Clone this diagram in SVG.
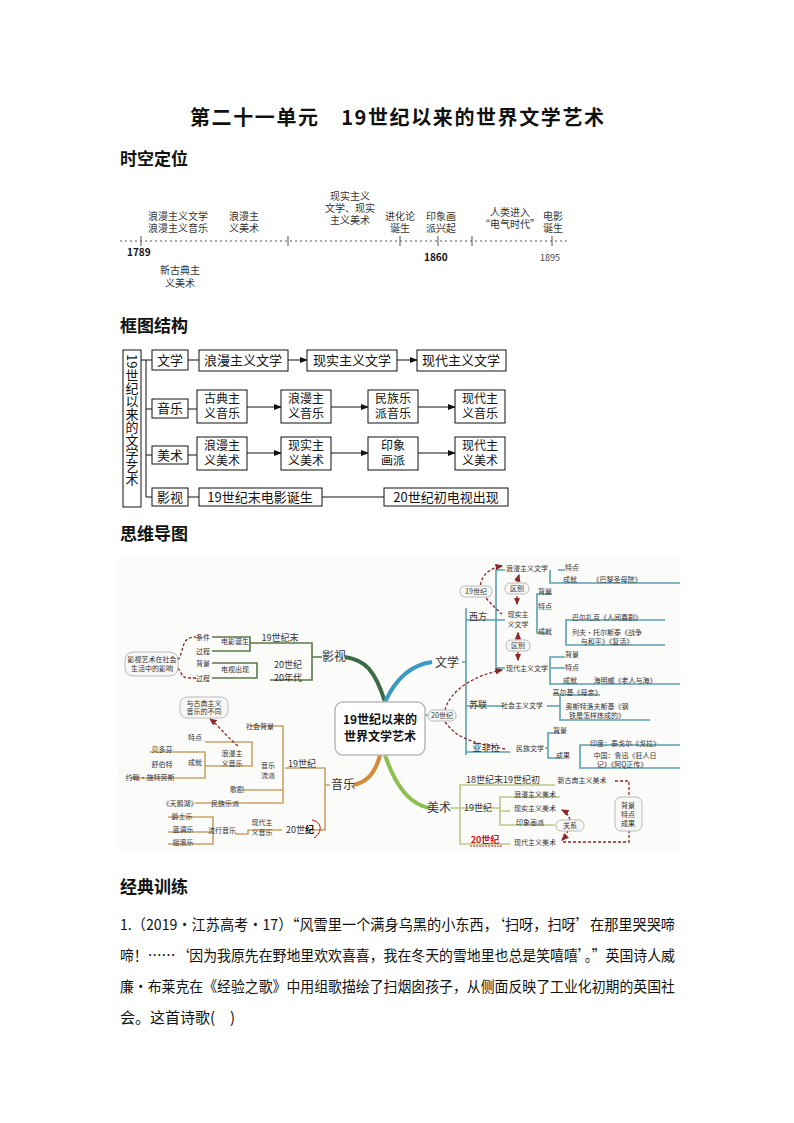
<svg xmlns="http://www.w3.org/2000/svg" width="794" height="1123" viewBox="0 0 794 1123">
<style>
text{font-family:"Noto Sans CJK SC","Liberation Sans",sans-serif;fill:#111}
.h{font-size:17px;font-weight:bold}
.tl{font-size:10px;fill:#333;text-anchor:middle}
.bx{fill:#fff;stroke:#111;stroke-width:1}
.ft{font-size:13px;text-anchor:middle}
.f2{font-size:12px;text-anchor:middle}
.ln{stroke:#111;stroke-width:1;fill:none}
.m{font-size:7px;fill:#333;text-anchor:middle}
.mb{font-size:12px;fill:#333;text-anchor:middle}
.g{stroke:#5a7a4a;stroke-width:1.6;fill:none}
.o{stroke:#c9a46a;stroke-width:1.6;fill:none}
.b{stroke:#5aa0b0;stroke-width:1.6;fill:none}
.y{stroke:#b9c98a;stroke-width:1.6;fill:none}
.d{stroke:#8a2a2a;stroke-width:1.3;fill:none;stroke-dasharray:3 2}
.sb{fill:#f7f7f5;stroke:#bbb;stroke-width:1}
.p{font-size:15px}
</style>
<defs>
<marker id="a" markerWidth="8" markerHeight="6" refX="7" refY="3" orient="auto"><path d="M0,0 L8,3 L0,6 z" fill="#111"/></marker>
<marker id="r" markerWidth="6" markerHeight="5" refX="5" refY="2.5" orient="auto"><path d="M0,0 L6,2.5 L0,5 z" fill="#8a2a2a"/></marker>
</defs>
<rect width="794" height="1123" fill="#fff"/>
<text x="397" y="125" font-size="20" font-weight="bold" text-anchor="middle" textLength="414" lengthAdjust="spacing">第二十一单元　19世纪以来的世界文学艺术</text>
<text x="120" y="165" class="h">时空定位</text>

<g id="timeline">
<line x1="120" y1="241" x2="570" y2="241" stroke="#555" stroke-dasharray="2 3"/>
<g stroke="#555"><line x1="141" y1="236" x2="141" y2="246"/><line x1="288" y1="236" x2="288" y2="246"/><line x1="400" y1="236" x2="400" y2="246"/><line x1="438" y1="236" x2="438" y2="246"/><line x1="472" y1="236" x2="472" y2="246"/><line x1="552" y1="236" x2="552" y2="246"/></g>
<text class="tl" x="178" y="220">浪漫主义文学</text><text class="tl" x="178" y="232">浪漫主义音乐</text>
<text class="tl" x="244" y="220">浪漫主</text><text class="tl" x="244" y="232">义美术</text>
<text class="tl" x="350" y="200">现实主义</text><text class="tl" x="350" y="212">文学、现实</text><text class="tl" x="350" y="224">主义美术</text>
<text class="tl" x="400" y="220">进化论</text><text class="tl" x="400" y="232">诞生</text>
<text class="tl" x="441" y="220">印象画</text><text class="tl" x="441" y="232">派兴起</text>
<text class="tl" x="510" y="216">人类进入</text><text class="tl" x="510" y="228">“电气时代”</text>
<text class="tl" x="553" y="220">电影</text><text class="tl" x="553" y="232">诞生</text>
<text x="127" y="256" font-size="10" font-weight="bold" font-family="Liberation Sans">1789</text>
<text x="424" y="261" font-size="10" font-weight="bold" font-family="Liberation Sans">1860</text>
<text x="540" y="261" font-size="9" style="fill:#444" font-family="Liberation Serif">1895</text>
<text class="tl" x="180" y="274">新古典主</text><text class="tl" x="180" y="287">义美术</text>
</g>

<text x="120" y="332" class="h">框图结构</text>
<g id="connectors-frame">
<path class="ln" d="M141 360H152 M146 360V497 M146 409H152 M146 455H152 M146 497H152"/>
<path class="ln" d="M188 360H199 M188 409H197 M188 455H197 M188 497H199"/>
<path class="ln" marker-end="url(#a)" d="M288 360H307"/><path class="ln" marker-end="url(#a)" d="M397 360H417"/>
<path class="ln" marker-end="url(#a)" d="M247 407H281"/><path class="ln" marker-end="url(#a)" d="M331 407H368"/><path class="ln" marker-end="url(#a)" d="M418 407H455"/>
<path class="ln" marker-end="url(#a)" d="M247 453H281"/><path class="ln" marker-end="url(#a)" d="M331 453H368"/><path class="ln" marker-end="url(#a)" d="M418 453H455"/>
<path class="ln" d="M322 497H384"/>
</g>
<g id="frame-root"><rect class="bx" x="123" y="350" width="18" height="157"/>
<text font-size="13" x="132" y="354" style="writing-mode:vertical-rl" text-anchor="start">19世纪以来的文学艺术</text></g>
<g id="f-wx"><rect class="bx" x="152" y="350" width="36" height="20"/><text class="ft" x="170" y="365">文学</text></g>
<g id="f-yy"><rect class="bx" x="152" y="399" width="36" height="19"/><text class="ft" x="170" y="413">音乐</text></g>
<g id="f-ms"><rect class="bx" x="152" y="446" width="36" height="18"/><text class="ft" x="170" y="460">美术</text></g>
<g id="f-ysh"><rect class="bx" x="152" y="488" width="36" height="18"/><text class="ft" x="170" y="502">影视</text></g>
<g id="f1"><rect class="bx" x="199" y="350" width="89" height="21"/><text class="ft" x="243" y="365">浪漫主义文学</text></g>
<g id="f2"><rect class="bx" x="307" y="350" width="90" height="21"/><text class="ft" x="352" y="365">现实主义文学</text></g>
<g id="f3"><rect class="bx" x="417" y="350" width="89" height="21"/><text class="ft" x="461" y="365">现代主义文学</text></g>
<g id="f4"><rect class="bx" x="197" y="390" width="50" height="33"/><text class="f2" x="222" y="403">古典主</text><text class="f2" x="222" y="418">义音乐</text></g>
<g id="f5"><rect class="bx" x="281" y="390" width="50" height="33"/><text class="f2" x="306" y="403">浪漫主</text><text class="f2" x="306" y="418">义音乐</text></g>
<g id="f6"><rect class="bx" x="368" y="390" width="50" height="33"/><text class="f2" x="393" y="403">民族乐</text><text class="f2" x="393" y="418">派音乐</text></g>
<g id="f7"><rect class="bx" x="455" y="390" width="50" height="33"/><text class="f2" x="480" y="403">现代主</text><text class="f2" x="480" y="418">义音乐</text></g>
<g id="f8"><rect class="bx" x="197" y="437" width="50" height="33"/><text class="f2" x="222" y="450">浪漫主</text><text class="f2" x="222" y="465">义美术</text></g>
<g id="f9"><rect class="bx" x="281" y="437" width="50" height="33"/><text class="f2" x="306" y="450">现实主</text><text class="f2" x="306" y="465">义美术</text></g>
<g id="f10"><rect class="bx" x="368" y="437" width="50" height="33"/><text class="f2" x="393" y="450">印象</text><text class="f2" x="393" y="465">画派</text></g>
<g id="f11"><rect class="bx" x="455" y="437" width="50" height="33"/><text class="f2" x="480" y="450">现代主</text><text class="f2" x="480" y="465">义美术</text></g>
<g id="f12"><rect class="bx" x="199" y="488" width="123" height="18"/><text class="ft" x="260" y="502" font-size="12">19世纪末电影诞生</text></g>
<g id="f13"><rect class="bx" x="384" y="488" width="124" height="18"/><text class="ft" x="446" y="502" font-size="12">20世纪初电视出现</text></g>

<text x="120" y="540" class="h">思维导图</text>
<g id="mindmap">
<rect x="118" y="556" width="562" height="296" fill="#fbfbfa"/>
<path d="M385 702 C375 670 365 660 345 657" stroke="#3d6a45" stroke-width="4" fill="none"/>
<path d="M385 702 C395 680 410 665 432 662" stroke="#3a9ac0" stroke-width="4" fill="none"/>
<path d="M380 755 C375 775 365 783 353 785" stroke="#d58a3a" stroke-width="4" fill="none"/>
<path d="M385 755 C395 785 410 805 430 808" stroke="#8cbf50" stroke-width="4" fill="none"/>
<path class="b" d="M425 715H436"/>
<path class="g" d="M322 657 H312 V643 H250 M312 657 V680 H270 M250 645 V637 H212 M250 645 V651 H212 M257 670 V663 H212 M257 670 V678 H212"/>
<path class="d" d="M178 660 C185 650 180 637 196 637 M178 668 C185 678 180 678 196 678"/>
<rect class="sb" x="125" y="652" width="53" height="24" rx="8"/>
<text class="m" x="152" y="662">影视艺术在社会</text><text class="m" x="152" y="671">生活中的影响</text>
<text class="mb" x="334" y="661">影视</text>
<text class="m" x="280" y="641" font-size="10" style="font-size:9px">19世纪末</text><text class="m" x="288" y="668" style="font-size:9px">20世纪</text><text class="m" x="288" y="681" style="font-size:9px">20年代</text>
<text class="m" x="235" y="644">电影诞生</text><text class="m" x="235" y="672">电视出现</text>
<text class="m" x="203" y="640">条件</text><text class="m" x="203" y="654">过程</text><text class="m" x="203" y="666">背景</text><text class="m" x="203" y="681">过程</text>
<path class="o" d="M330 785 H325 V768 H285 M325 785 V830 H310 M283 770 V726 H250 M283 770 V790 H243 M283 770 V803 H195 M252 760 V742 H205 M252 760 V766 H205 M205 766 V752 H150 M205 766 V778 H130 M282 830 H248 V834 H235 M213 832 V817 H168 M213 832 H168 M213 832 V844 H168"/>
<path d="M312 820 C322 822 323 832 314 838" stroke="#d00" stroke-width="1" fill="none"/>
<path class="d" marker-end="url(#r)" d="M238 746 C225 735 218 725 210 719"/>
<rect class="sb" x="180" y="697" width="48" height="21" rx="7"/>
<text class="m" x="204" y="706">与古典主义</text><text class="m" x="204" y="714">音乐的不同</text>
<text class="mb" x="343" y="789">音乐</text>
<text class="m" x="302" y="767" style="font-size:9px">19世纪</text>
<text class="m" x="268" y="768">音乐</text><text class="m" x="268" y="778">流派</text>
<text class="m" x="232" y="756">浪漫主</text><text class="m" x="232" y="766">义音乐</text>
<text class="m" x="260" y="729">社会背景</text><text class="m" x="195" y="740">特点</text><text class="m" x="195" y="765">成就</text>
<text class="m" x="162" y="752">贝多芬</text><text class="m" x="162" y="767">舒伯特</text><text class="m" x="150" y="780">约翰·施特劳斯</text>
<text class="m" x="237" y="792">歌剧</text><text class="m" x="225" y="806">民族乐派</text><text class="m" x="180" y="806">《天鹅湖》</text>
<text class="m" x="300" y="833" style="font-size:9px">20世<tspan style="fill:#000;font-weight:bold">纪</tspan></text>
<text class="m" x="262" y="825">现代主</text><text class="m" x="262" y="835">义音乐</text>
<text class="m" x="222" y="833">流行音乐</text>
<text class="m" x="182" y="819">爵士乐</text><text class="m" x="183" y="832">蓝调乐</text><text class="m" x="183" y="845">摇滚乐</text>
<path class="b" d="M462 662 H466 V620 H486 M466 620 V608 M466 662 V755 M466 706 H505 M466 752 H510 M486 620 H496 V570 H505 M496 620 H505 M496 620 V668 H505 M550 570 V583 H680 M558 570 H565 M537 616 V594 H552 M537 616 V609 M537 616 V633 H548 M566 633 V620 H665 M566 633 V645 H665 M550 668 V657 H565 M550 668 V684 H680 M550 668 H565 M547 706 H560 V695 H600 M560 706 V720 H650 M545 748 H548 V733 H560 M548 748 V758 H560 M580 758 V745 H680 M580 758 V768 H680"/>
<path class="d" marker-end="url(#r)" d="M480 590 C480 575 490 568 502 566"/>
<path class="d" d="M486 598 C492 605 497 610 502 614"/>
<path class="d" marker-end="url(#r)" d="M517 582 L519 575"/><path class="d" marker-end="url(#r)" d="M517 596 L517 604"/>
<path class="d" marker-end="url(#r)" d="M518 640 L518 633"/><path class="d" marker-end="url(#r)" d="M518 652 L518 660"/>
<path class="d" marker-end="url(#r)" d="M445 710 C450 690 475 675 502 670"/>
<path class="d" d="M445 722 C455 735 465 742 505 749"/>
<g fill="#f7f7f5" stroke="#bbb"><rect x="460" y="586" width="32" height="11" rx="5"/><rect x="505" y="583" width="24" height="11" rx="5"/><rect x="506" y="640" width="24" height="11" rx="5"/><rect x="428" y="710" width="28" height="11" rx="5"/></g>
<text class="mb" x="447" y="667">文学</text>
<text class="m" x="476" y="594">19世纪</text><text class="m" x="517" y="591">区别</text><text class="m" x="518" y="648">区别</text><text class="m" x="442" y="718">20世纪</text>
<text class="m" x="478" y="620" style="font-size:9px">西方</text>
<text class="m" x="527" y="571">浪漫主义文学</text><text class="m" x="572" y="570">特点</text><text class="m" x="570" y="582">成就</text><text class="m" x="617" y="582">《巴黎圣母院》</text>
<text class="m" x="518" y="617">现实主</text><text class="m" x="518" y="627">义文学</text>
<text class="m" x="545" y="594">背景</text><text class="m" x="545" y="609">特点</text><text class="m" x="545" y="634">成就</text>
<text class="m" x="607" y="620">巴尔扎克《人间喜剧》</text><text class="m" x="607" y="635">列夫·托尔斯泰《战争</text><text class="m" x="607" y="644">与和平》《复活》</text>
<text class="m" x="527" y="671">现代主义文学</text><text class="m" x="572" y="657">背景</text><text class="m" x="572" y="670">特点</text><text class="m" x="570" y="683">成就</text><text class="m" x="625" y="683">海明威《老人与海》</text>
<text class="m" x="577" y="695">高尔基《母亲》</text>
<text class="m" x="478" y="708" style="font-size:9px">苏联</text><text class="m" x="522" y="708">社会主义文学</text>
<text class="m" x="597" y="709">奥斯特洛夫斯基《钢</text><text class="m" x="597" y="718">铁是怎样炼成的》</text>
<text class="m" x="486" y="751" style="font-size:9px">亚非拉</text><text class="m" x="530" y="751">民族文学</text>
<text class="m" x="560" y="733">背景</text><text class="m" x="563" y="758">成果</text>
<text class="m" x="625" y="746">印度：泰戈尔《戈拉》</text><text class="m" x="625" y="758">中国：鲁迅《狂人日</text><text class="m" x="622" y="767">记》《阿Q正传》</text>
<path class="y" d="M450 808 H460 M460 808 V785 H555 M460 808 H500 M460 808 V844 H510 M500 808 V797 H560 M500 808 V811 H510 M500 808 V825 H555"/>
<path class="d" d="M615 781 H629 V797 M629 830 V842 H562"/>
<path class="d" marker-end="url(#r)" d="M570 820 C568 814 566 812 562 810"/><path class="d" marker-end="url(#r)" d="M568 830 C566 836 564 838 562 840"/>
<rect class="sb" x="615" y="797" width="27" height="34" rx="6"/>
<rect class="sb" x="556" y="820" width="28" height="11" rx="5"/>
<text class="mb" x="439" y="812">美术</text>
<text class="m" x="503" y="783" style="font-size:9px">18世纪末19世纪初</text><text class="m" x="582" y="783">新古典主义美术</text>
<text class="m" x="478" y="811" style="font-size:9px">19世纪</text>
<text class="m" x="535" y="797">浪漫主义美术</text><text class="m" x="535" y="811">现实主义美术</text><text class="m" x="530" y="825">印象画派</text>
<text class="m" x="485" y="843" style="font-size:9px;fill:#d01010;font-weight:bold">20世纪</text>
<line x1="470" y1="846" x2="502" y2="846" stroke="#d01010" stroke-dasharray="2 1"/>
<text class="m" x="535" y="845">现代主义美术</text>
<text class="m" x="570" y="828">关系</text>
<text class="m" x="628" y="808">背景</text><text class="m" x="628" y="817">特点</text><text class="m" x="628" y="826">成果</text>
</g>
<g id="mm-center"><rect x="335" y="702" width="90" height="53" rx="8" fill="#fff" stroke="#bbb" stroke-width="1.5"/>
<text x="380" y="724" font-size="12" font-weight="bold" text-anchor="middle">19世纪以来的</text>
<text x="380" y="741" font-size="12" font-weight="bold" text-anchor="middle">世界文学艺术</text></g>

<text x="120" y="893" class="h">经典训练</text>
<text class="p" x="120" y="930" textLength="555" lengthAdjust="spacingAndGlyphs">1.（2019·江苏高考·17）“风雪里一个满身乌黑的小东西，‘扫呀，扫呀’在那里哭哭啼</text>
<text class="p" x="120" y="961" textLength="555" lengthAdjust="spacingAndGlyphs">啼！……‘因为我原先在野地里欢欢喜喜，我在冬天的雪地里也总是笑嘻嘻’。”英国诗人威</text>
<text class="p" x="120" y="992" textLength="555" lengthAdjust="spacingAndGlyphs">廉·布莱克在《经验之歌》中用组歌描绘了扫烟囱孩子，从侧面反映了工业化初期的英国社</text>
<text class="p" x="120" y="1023">会。这首诗歌(　)</text>
</svg>
